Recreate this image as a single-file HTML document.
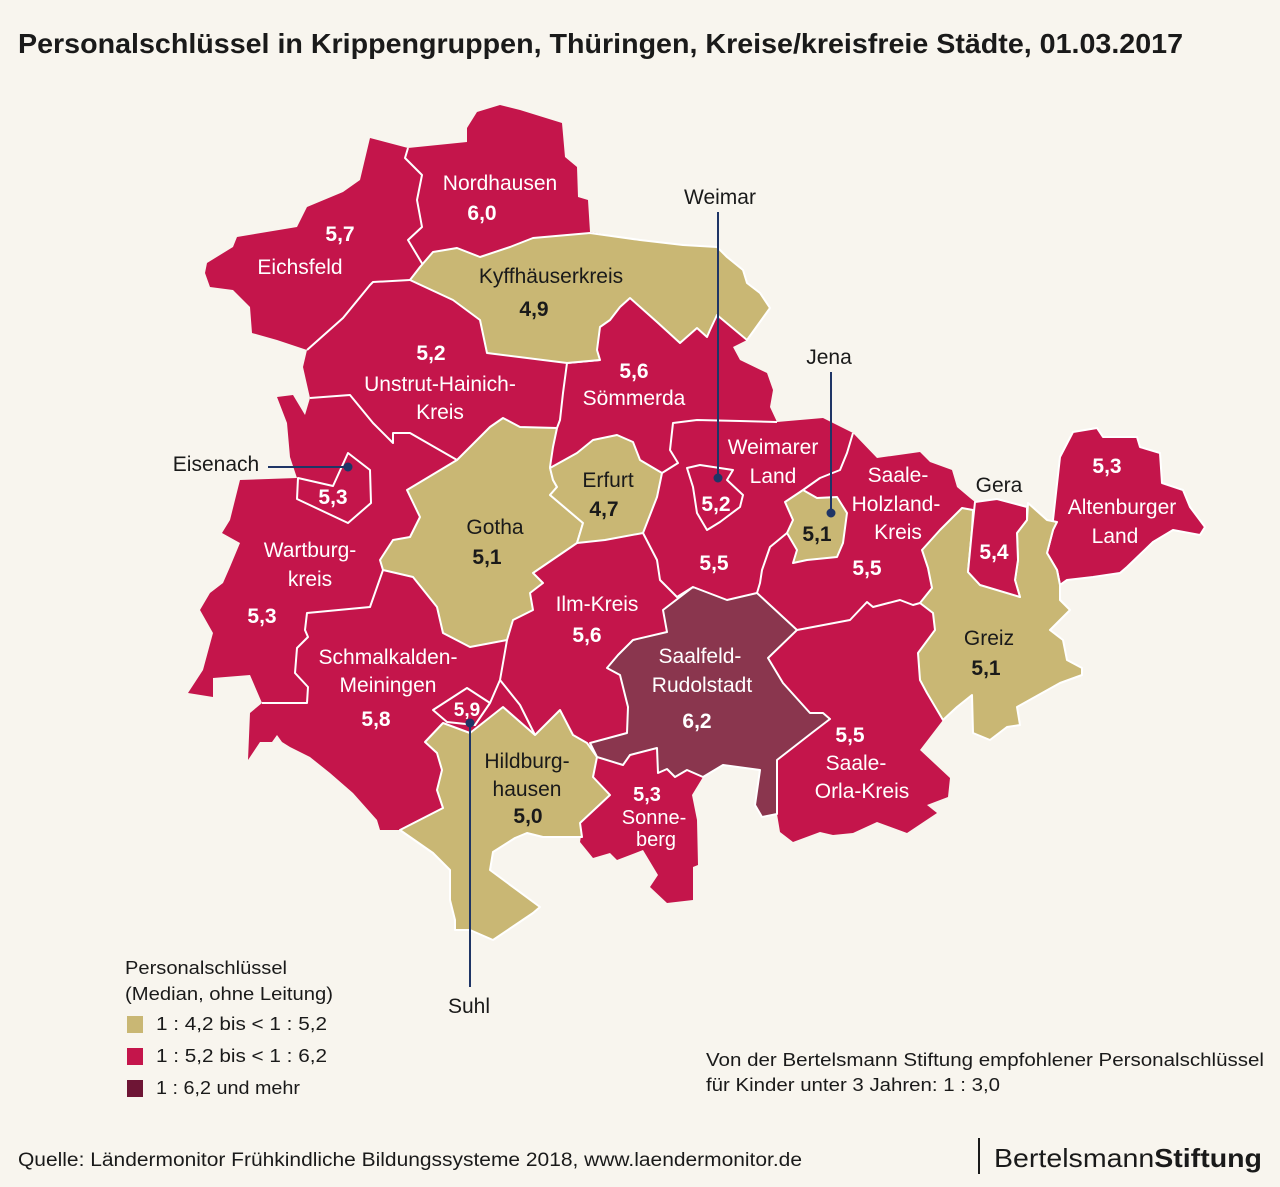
<!DOCTYPE html>
<html><head><meta charset="utf-8"><style>
html,body{margin:0;padding:0;background:#f8f5ee;}
svg{display:block;}
text{font-family:"Liberation Sans",sans-serif;}
</style></head><body>
<svg width="1280" height="1187" viewBox="0 0 1280 1187" xmlns="http://www.w3.org/2000/svg">
<rect width="1280" height="1187" fill="#f8f5ee"/>
<text x="18" y="53" font-size="28" font-weight="bold" fill="#1a1a1a" textLength="1165" lengthAdjust="spacingAndGlyphs">Personalschlüssel in Krippengruppen, Thüringen, Kreise/kreisfreie Städte, 01.03.2017</text>

<g stroke-linejoin="round">
<!-- outer red -->
<polygon fill="#c4154b" points="370,138 408,148 467,142 467,128 477,112 500,105 520,110 562,123 565,157 577,167 578,197 588,200 590,232 640,240 683,245 717,247 727,257 743,270 747,283 760,293 770,308 747,340 733,347 740,360 767,373 773,390 770,407 777,422 823,418 853,433 877,458 920,452 930,462 952,470 957,487 970,498 975,502 997,499 1027,507 1047,520 1057,522 1060,585 1060,600 1070,610 1050,630 1063,640 1067,660 1082,668 1082,675 1060,683 1017,707 1020,725 1007,727 990,740 973,733 972,695 957,707 943,720 920,750 950,778 948,797 927,805 937,813 907,833 877,822 853,833 833,835 820,832 793,842 780,832 777,814 762,817 755,805 760,770 723,765 703,777 692,795 697,820 698,865 693,867 693,900 667,903 650,887 658,875 643,850 617,860 610,853 593,858 580,842 582,830 543,837 527,833 515,838 493,852 490,870 540,907 533,913 493,940 470,930 455,930 455,920 450,900 450,870 433,853 400,830 380,830 377,820 353,793 330,773 310,757 290,747 282,742 277,735 272,742 260,742 248,760 250,713 262,703 250,675 213,678 213,697 188,693 203,670 213,633 200,610 210,593 223,583 230,567 240,543 222,533 230,520 240,480 297,478 290,457 287,423 277,397 293,395 305,415 310,398 303,367 307,350 277,340 252,333 250,307 233,290 210,287 205,273 207,263 233,247 237,237 297,227 307,207 343,192 360,180"/>
<!-- Altenburger Land -->
<polygon fill="#c4154b" stroke="#fff" stroke-width="2" points="1053,520 1060,457 1073,432 1097,428 1103,437 1137,437 1140,447 1160,453 1162,483 1183,490 1190,507 1205,527 1200,535 1173,530 1153,542 1127,567 1120,573 1093,577 1067,580 1060,585 1057,570 1047,553 1053,530"/>

<!-- internal red-red borders -->
<g fill="none" stroke="#fff" stroke-width="2">
<polyline points="408,148 405,158 422,175 417,200 422,227 408,240 423,265 410,280"/>
<polyline points="410,280 373,282 370,285 343,318 307,350"/>
<polyline points="310,398 350,395 373,423 393,443 393,433 410,433 457,460"/>
<polyline points="600,360 567,363 563,393 560,420 557,428"/>
<polyline points="777,422 740,421 697,420 673,423 670,450 678,463 662,473"/>
<polyline points="853,433 847,453 840,470 820,478 803,490"/>
<polyline points="787,533 770,547 762,570 760,583 757,593"/>
<polyline points="643,533 657,560 660,580 677,597 693,587"/>
<polyline points="507,640 503,663 500,680 490,703"/>
<polyline points="500,680 520,705 535,735"/>
<polyline points="383,570 370,607 307,613 305,630 308,637 297,648 295,673 308,687 307,703 280,703 262,703"/>
<polyline points="797,630 850,620 867,602 873,607 900,600 913,605 920,603"/>
</g>

<!-- Weimar, Eisenach, Suhl -->
<polygon fill="#c4154b" stroke="#fff" stroke-width="2" points="687,468 700,465 733,470 727,480 743,495 740,507 720,522 707,530 697,513 693,487"/>
<polygon fill="#c4154b" stroke="#fff" stroke-width="2" points="298,478 333,486 348,453 370,470 371,503 348,523 297,499"/>
<polygon fill="#c4154b" stroke="#fff" stroke-width="2" points="433,710 467,688 490,703 475,725 447,722"/>

<!-- tan -->
<g fill="#c9b774" stroke="#fff" stroke-width="2">
<polygon points="410,280 420,267 433,252 457,248 480,257 510,247 533,238 590,233 640,240 683,245 717,247 727,257 743,270 747,283 760,293 770,308 747,340 717,315 710,330 707,337 697,328 680,343 657,322 630,298 620,307 610,320 600,327 597,350 600,360 567,363 487,353 480,320 453,300"/>
<polygon points="457,460 490,427 503,418 520,427 557,428 553,447 550,467 553,480 557,487 550,495 583,523 577,543 533,573 543,583 530,593 533,610 513,620 507,640 470,647 443,633 437,607 413,577 383,570 380,560 393,540 410,537 420,517 407,490"/>
<polygon points="550,468 577,453 593,440 617,435 633,442 640,460 662,473 657,497 650,515 643,533 605,540 577,543 583,523 550,495 557,487 553,480"/>
<polygon points="785,502 803,490 817,498 837,497 847,513 843,543 837,557 807,560 793,563 797,550 787,533 793,520"/>
<polygon points="425,742 443,723 470,733 503,707 535,735 560,710 573,735 587,743 597,757 593,777 610,795 580,823 582,837 543,837 527,833 515,838 493,852 490,870 540,907 533,913 493,940 470,930 455,930 455,920 450,900 450,870 433,853 400,830 443,808 437,790 442,770 437,753"/>
<polygon points="973,510 972,530 968,572 980,585 1017,592 1020,597 1015,580 1018,560 1017,533 1027,520 1028,503 1047,520 1057,522 1053,530 1047,553 1057,570 1060,585 1060,600 1070,610 1050,630 1063,640 1067,660 1082,668 1082,675 1060,683 1017,707 1020,725 1007,727 990,740 973,733 972,695 957,707 943,720 927,693 920,680 918,653 935,630 933,613 920,603 932,588 928,568 922,550 940,530 950,520 962,508"/>
</g>
<!-- Gera -->
<polygon fill="#c4154b" stroke="#fff" stroke-width="2" points="975,502 997,499 1027,507 1027,520 1017,533 1018,560 1015,580 1020,597 980,585 968,572 972,530"/>
<!-- Saalfeld-Rudolstadt -->
<polygon fill="#8a364e" stroke="#fff" stroke-width="2" points="693,587 727,600 757,593 797,630 768,658 783,683 810,713 823,713 830,719 813,732 777,760 777,814 762,817 755,805 760,770 723,765 703,777 687,770 675,777 667,769 658,773 657,748 630,755 623,765 597,757 590,743 627,733 628,707 620,675 607,668 618,655 633,640 667,632 663,610"/>
</g>

<!-- leader lines -->
<g stroke="#1f3566" stroke-width="2" fill="#1f3566">
<line x1="718" y1="212" x2="718" y2="478"/><circle cx="718" cy="478" r="3.5"/>
<line x1="831" y1="372" x2="831" y2="513"/><circle cx="831" cy="513" r="3.5"/>
<line x1="268" y1="467" x2="348" y2="467"/><circle cx="348" cy="467" r="3.5"/>
<line x1="470" y1="723" x2="470" y2="987"/><circle cx="470" cy="723" r="3.5"/>
</g>

<!-- labels -->
<g font-size="21" text-anchor="middle" fill="#fff">
<text x="500" y="190">Nordhausen</text>
<text x="482" y="220" font-weight="bold">6,0</text>
<text x="340" y="241" font-weight="bold">5,7</text>
<text x="300" y="274">Eichsfeld</text>
<text x="431" y="360" font-weight="bold">5,2</text>
<text x="440" y="391">Unstrut-Hainich-</text>
<text x="440" y="419">Kreis</text>
<text x="634" y="378" font-weight="bold">5,6</text>
<text x="634" y="405">Sömmerda</text>
<text x="773" y="454">Weimarer</text>
<text x="773" y="483">Land</text>
<text x="716" y="511" font-weight="bold">5,2</text>
<text x="898" y="482">Saale-</text>
<text x="896" y="511">Holzland-</text>
<text x="898" y="539">Kreis</text>
<text x="714" y="570" font-weight="bold">5,5</text>
<text x="867" y="575" font-weight="bold">5,5</text>
<text x="994" y="559" font-weight="bold">5,4</text>
<text x="1107" y="473" font-weight="bold">5,3</text>
<text x="1122" y="514">Altenburger</text>
<text x="1115" y="543">Land</text>
<text x="333" y="504" font-weight="bold">5,3</text>
<text x="310" y="557">Wartburg-</text>
<text x="310" y="586">kreis</text>
<text x="262" y="623" font-weight="bold">5,3</text>
<text x="597" y="611">Ilm-Kreis</text>
<text x="587" y="642" font-weight="bold">5,6</text>
<text x="388" y="664">Schmalkalden-</text>
<text x="388" y="692">Meiningen</text>
<text x="376" y="726" font-weight="bold">5,8</text>
<text x="467" y="716" font-weight="bold" font-size="19">5,9</text>
<text x="700" y="663">Saalfeld-</text>
<text x="702" y="692">Rudolstadt</text>
<text x="697" y="728" font-weight="bold">6,2</text>
<text x="850" y="742" font-weight="bold">5,5</text>
<text x="856" y="770">Saale-</text>
<text x="862" y="798">Orla-Kreis</text>
<text x="647" y="801" font-weight="bold" font-size="20">5,3</text>
<text x="654" y="824" font-size="20">Sonne-</text>
<text x="656" y="846" font-size="20">berg</text>
</g>
<g font-size="21" text-anchor="middle" fill="#1a1a1a">
<text x="551" y="283">Kyffhäuserkreis</text>
<text x="534" y="316" font-weight="bold">4,9</text>
<text x="720" y="204">Weimar</text>
<text x="829" y="364">Jena</text>
<text x="817" y="541" font-weight="bold">5,1</text>
<text x="999" y="492">Gera</text>
<text x="989" y="645">Greiz</text>
<text x="986" y="675" font-weight="bold">5,1</text>
<text x="608" y="487">Erfurt</text>
<text x="604" y="516" font-weight="bold">4,7</text>
<text x="495" y="534">Gotha</text>
<text x="487" y="564" font-weight="bold">5,1</text>
<text x="216" y="471">Eisenach</text>
<text x="527" y="768">Hildburg-</text>
<text x="527" y="796">hausen</text>
<text x="528" y="823" font-weight="bold">5,0</text>
<text x="469" y="1013">Suhl</text>
</g>

<!-- legend -->
<g font-size="18" fill="#1a1a1a">
<text x="125" y="974" textLength="162" lengthAdjust="spacingAndGlyphs">Personalschlüssel</text>
<text x="125" y="1000" textLength="208" lengthAdjust="spacingAndGlyphs">(Median, ohne Leitung)</text>
<rect x="127" y="1016" width="16" height="17" fill="#c9b774"/>
<text x="156" y="1030" textLength="171" lengthAdjust="spacingAndGlyphs">1 : 4,2 bis &lt; 1 : 5,2</text>
<rect x="127" y="1048" width="16" height="17" fill="#c4154b"/>
<text x="156" y="1062" textLength="171" lengthAdjust="spacingAndGlyphs">1 : 5,2 bis &lt; 1 : 6,2</text>
<rect x="127" y="1080" width="16" height="17" fill="#6e1535"/>
<text x="156" y="1094" textLength="144" lengthAdjust="spacingAndGlyphs">1 : 6,2 und mehr</text>
</g>
<g font-size="18" fill="#1a1a1a">
<text x="706" y="1066" textLength="558" lengthAdjust="spacingAndGlyphs">Von der Bertelsmann Stiftung empfohlener Personalschlüssel</text>
<text x="706" y="1091" textLength="294" lengthAdjust="spacingAndGlyphs">für Kinder unter 3 Jahren: 1 : 3,0</text>
<text x="18" y="1166" font-size="19" textLength="784" lengthAdjust="spacingAndGlyphs">Quelle: Ländermonitor Frühkindliche Bildungssysteme 2018, www.laendermonitor.de</text>
</g>
<line x1="979" y1="1138" x2="979" y2="1174" stroke="#1a1a1a" stroke-width="2"/>
<text x="994" y="1167" font-size="26" fill="#1a1a1a" textLength="268" lengthAdjust="spacingAndGlyphs">Bertelsmann<tspan font-weight="bold">Stiftung</tspan></text>
</svg>
</body></html>
